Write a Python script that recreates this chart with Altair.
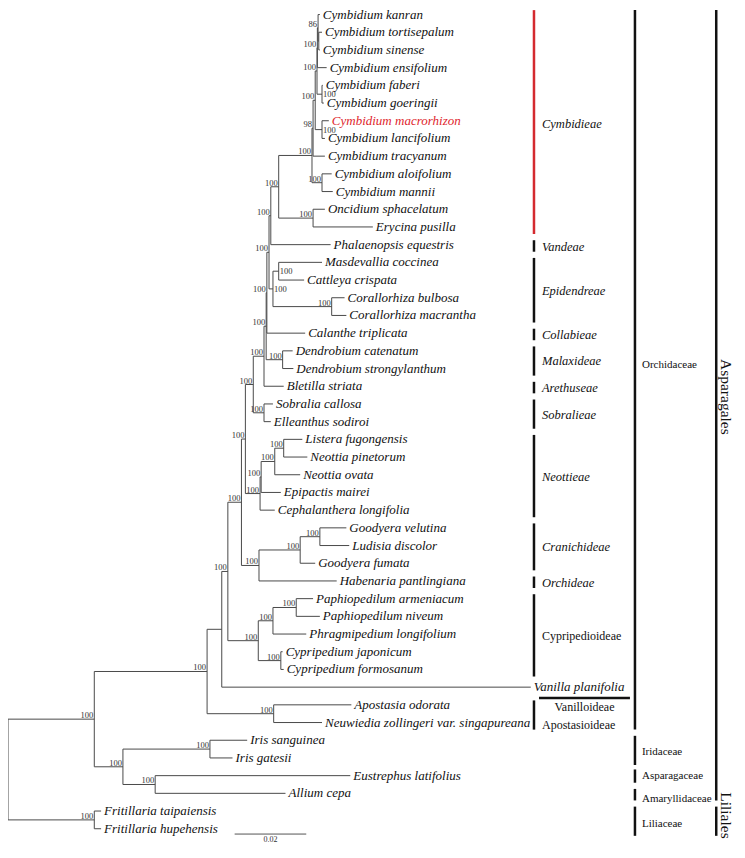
import altair as alt
import pandas as pd

# ---------------- tree data (branch depths in substitutions/site) ----------------
tips = [
    "Cymbidium kanran", "Cymbidium tortisepalum", "Cymbidium sinense", "Cymbidium ensifolium",
    "Cymbidium faberi", "Cymbidium goeringii", "Cymbidium macrorhizon", "Cymbidium lancifolium",
    "Cymbidium tracyanum", "Cymbidium aloifolium", "Cymbidium mannii", "Oncidium sphacelatum",
    "Erycina pusilla", "Phalaenopsis equestris", "Masdevallia coccinea", "Cattleya crispata",
    "Corallorhiza bulbosa", "Corallorhiza macrantha", "Calanthe triplicata", "Dendrobium catenatum",
    "Dendrobium strongylanthum", "Bletilla striata", "Sobralia callosa", "Elleanthus sodiroi",
    "Listera fugongensis", "Neottia pinetorum", "Neottia ovata", "Epipactis mairei",
    "Cephalanthera longifolia", "Goodyera velutina", "Ludisia discolor", "Goodyera fumata",
    "Habenaria pantlingiana", "Paphiopedilum armeniacum", "Paphiopedilum niveum",
    "Phragmipedium longifolium", "Cypripedium japonicum", "Cypripedium formosanum",
    "Vanilla planifolia", "Apostasia odorata", "Neuwiedia zollingeri var. singapureana",
    "Iris sanguinea", "Iris gatesii", "Eustrephus latifolius", "Allium cepa",
    "Fritillaria taipaiensis", "Fritillaria hupehensis",
]
tip_depth = [
    0.0871, 0.0877, 0.0871, 0.0890, 0.0879, 0.0882, 0.0896, 0.0885, 0.0885, 0.0904, 0.0907,
    0.0885, 0.1019, 0.0901, 0.0877, 0.0827, 0.0940, 0.0945, 0.0830, 0.0795, 0.0797, 0.0770,
    0.0740, 0.0734, 0.0822, 0.0836, 0.0816, 0.0762, 0.0745, 0.0945, 0.0953, 0.0858, 0.0918,
    0.0852, 0.0871, 0.0833, 0.0767, 0.0770, 0.1460, 0.0959, 0.0877, 0.0668, 0.0627, 0.0956,
    0.0775, 0.0260, 0.0260,
]
highlight_tip = "Cymbidium macrorhizon"

node_name = ["TS", "KTS", "KTSE", "FG", "G", "ML", "H", "I", "AM", "CYM", "OE", "CO", "VC",
             "MC", "COR", "EPI", "VCE", "VCEC", "DD", "X1", "X2", "SE", "X3", "LN", "LNO",
             "LNOE", "NEO", "X4", "GL", "GLF", "CRO", "X5", "PP", "PPP", "CC", "CYP", "X6",
             "X7", "AN", "X8", "IR", "AA", "IAA", "X9", "FR", "ROOT"]
node_kids = [
    ["Cymbidium tortisepalum", "Cymbidium sinense"], ["Cymbidium kanran", "TS"],
    ["KTS", "Cymbidium ensifolium"], ["Cymbidium faberi", "Cymbidium goeringii"], ["KTSE", "FG"],
    ["Cymbidium macrorhizon", "Cymbidium lancifolium"], ["G", "ML"], ["H", "Cymbidium tracyanum"],
    ["Cymbidium aloifolium", "Cymbidium mannii"], ["I", "AM"],
    ["Oncidium sphacelatum", "Erycina pusilla"], ["CYM", "OE"], ["CO", "Phalaenopsis equestris"],
    ["Masdevallia coccinea", "Cattleya crispata"], ["Corallorhiza bulbosa", "Corallorhiza macrantha"],
    ["MC", "COR"], ["VC", "EPI"], ["VCE", "Calanthe triplicata"],
    ["Dendrobium catenatum", "Dendrobium strongylanthum"], ["VCEC", "DD"], ["X1", "Bletilla striata"],
    ["Sobralia callosa", "Elleanthus sodiroi"], ["X2", "SE"],
    ["Listera fugongensis", "Neottia pinetorum"], ["LN", "Neottia ovata"], ["LNO", "Epipactis mairei"],
    ["LNOE", "Cephalanthera longifolia"], ["X3", "NEO"],
    ["Goodyera velutina", "Ludisia discolor"], ["GL", "Goodyera fumata"], ["GLF", "Habenaria pantlingiana"],
    ["X4", "CRO"], ["Paphiopedilum armeniacum", "Paphiopedilum niveum"],
    ["PP", "Phragmipedium longifolium"], ["Cypripedium japonicum", "Cypripedium formosanum"],
    ["PPP", "CC"], ["X5", "CYP"], ["X6", "Vanilla planifolia"],
    ["Apostasia odorata", "Neuwiedia zollingeri var. singapureana"], ["X7", "AN"],
    ["Iris sanguinea", "Iris gatesii"], ["Eustrephus latifolius", "Allium cepa"], ["IR", "AA"],
    ["X8", "IAA"], ["Fritillaria taipaiensis", "Fritillaria hupehensis"], ["X9", "FR"],
]
node_depth = [0.0868, 0.0866, 0.0864, 0.0877, 0.0863, 0.0877, 0.0858, 0.0852, 0.0877, 0.0849,
              0.0852, 0.0756, 0.0734, 0.0756, 0.0904, 0.0740, 0.0729, 0.0723, 0.0767, 0.0721,
              0.0715, 0.0715, 0.0685, 0.0770, 0.0745, 0.0707, 0.0704, 0.0663, 0.0871, 0.0816,
              0.0701, 0.0652, 0.0805, 0.0740, 0.0762, 0.0699, 0.0614, 0.0597, 0.0742, 0.0556,
              0.0564, 0.0411, 0.0321, 0.0241, 0.0241, 0.0]
node_support = ["", "86", "100", "100", "100", "100", "100", "98", "100", "100",
                "100", "100", "100", "100", "100", "100", "100", "100", "100", "100",
                "100", "100", "100", "100", "100", "100", "100", "100", "100", "100",
                "100", "100", "100", "100", "100", "100", "100", "", "100", "100",
                "100", "100", "100", "100", "100", ""]
support_right_of_node = ["MC", "EPI", "FG", "ML"]

# ---------------- clade annotations ----------------
tribe_names = ["Cymbidieae", "Vandeae", "Epidendreae", "Collabieae", "Malaxideae", "Arethuseae",
               "Sobralieae", "Neottieae", "Cranichideae", "Orchideae", "Cypripedioideae", "Apostasioideae"]
tribe_first = [0, 13, 14, 18, 19, 21, 22, 24, 29, 32, 33, 39]
tribe_last = [12, 13, 17, 18, 20, 21, 23, 28, 31, 32, 37, 40]
tribe_label_row = [6.2, 13.15, 15.6, 18.1, 19.6, 21.1, 22.6, 26.1, 30.1, 32.1, 35.1, 40.15]
tribe_italic = [True, True, True, True, True, True, True, True, True, True, False, False]
tribe_color = ["#d42a2f"] + ["#111111"] * 11

family_names = ["Orchidaceae", "Iridaceae", "Asparagaceae", "Amaryllidaceae", "Liliaceae"]
family_first = [0, 41, 42.9, 44, 45]
family_last = [40, 42, 43, 44, 46]
family_label_row = [19.8, 41.65, 43.0, 44.3, 45.75]

order_names = ["Asparagales", "Liliales"]
order_first = [0, 45]
order_last = [44, 46]
order_label_row = [21.6, 45.25]

vanilloideae_label = "Vanilloideae"
vanilloideae_row = 39.15
vanilloideae_bar_row = 38.62
vanilloideae_bar_x = [0.1483, 0.1737]

tribe_bar_x = 0.1469
family_bar_x = 0.1751
order_bar_x = 0.1978

scale_bar_x = [0.0633, 0.0833]
scale_bar_row = 46.3
scale_bar_label = "0.02"

# ---------------- layout of the tree ----------------
pos = {}
for i, t in enumerate(tips):
    pos[t] = (tip_depth[i], float(i))
for name, kids, d in zip(node_name, node_kids, node_depth):
    ys_ = [pos[k][1] for k in kids]
    pos[name] = (d, sum(ys_) / len(ys_))

segs = []
for name, kids in zip(node_name, node_kids):
    px, py = pos[name]
    ys_ = [pos[k][1] for k in kids]
    segs.append(dict(x=px, x2=px, y=min(ys_), y2=max(ys_)))
    for k in kids:
        kx, ky = pos[k]
        segs.append(dict(x=px, x2=kx, y=ky, y2=ky))
seg_df = pd.DataFrame(segs)

tip_df = pd.DataFrame(dict(
    x=tip_depth, y=list(range(len(tips))), label=tips,
    color=["#e0262d" if t == highlight_tip else "#111111" for t in tips],
))

sup_left = pd.DataFrame([dict(x=pos[n][0], y=pos[n][1], label=s)
                         for n, s in zip(node_name, node_support) if s and n not in support_right_of_node])
sup_right = pd.DataFrame([dict(x=pos[n][0], y=pos[n][1], label=s)
                          for n, s in zip(node_name, node_support) if s and n in support_right_of_node])

W, H = 729, 838
xs = alt.Scale(domain=[0, 0.2036], nice=False, zero=False)
ys = alt.Scale(domain=[-0.37, 46.975], nice=False, zero=False, reverse=True)
X = lambda f="x": alt.X(f"{f}:Q", scale=xs, axis=None)
Y = lambda f="y": alt.Y(f"{f}:Q", scale=ys, axis=None)

SERIF = "Liberation Serif"

tree = alt.Chart(seg_df).mark_rule(color="#4a4a4a", strokeWidth=1).encode(
    x=X(), x2="x2:Q", y=Y(), y2="y2:Q")

tip_text = alt.Chart(tip_df).mark_text(
    align="left", baseline="middle", dx=3, font=SERIF, fontStyle="italic", fontSize=13
).encode(x=X(), y=Y(), text="label:N", color=alt.Color("color:N", scale=None))

sup_l = alt.Chart(sup_left).mark_text(
    align="right", baseline="bottom", dx=-1, dy=1, font=SERIF, fontSize=8.5, color="#333333"
).encode(x=X(), y=Y(), text="label:N")
sup_r = alt.Chart(sup_right).mark_text(
    align="left", baseline="middle", dx=1, font=SERIF, fontSize=8.5, color="#333333"
).encode(x=X(), y=Y(), text="label:N")

# clade bars
bar_rows = []
for n, f, l, c in zip(tribe_names, tribe_first, tribe_last, tribe_color):
    bar_rows.append(dict(x=tribe_bar_x, y=f - 0.25, y2=l + 0.4, color=c))
for n, f, l in zip(family_names, family_first, family_last):
    bar_rows.append(dict(x=family_bar_x, y=f - 0.25, y2=l + 0.4, color="#111111"))
for n, f, l in zip(order_names, order_first, order_last):
    bar_rows.append(dict(x=order_bar_x, y=f - 0.25, y2=l + 0.4, color="#111111"))
bar_df = pd.DataFrame(bar_rows)
bars = alt.Chart(bar_df).mark_rule(strokeWidth=2.5).encode(
    x=X(), y=Y(), y2="y2:Q", color=alt.Color("color:N", scale=None))

van_bar = alt.Chart(pd.DataFrame(dict(x=[vanilloideae_bar_x[0]], x2=[vanilloideae_bar_x[1]],
                                      y=[vanilloideae_bar_row]))).mark_rule(
    strokeWidth=2.5, color="#111111").encode(x=X(), x2="x2:Q", y=Y())

tribe_df = pd.DataFrame(dict(
    x=[tribe_bar_x] * len(tribe_names), y=tribe_label_row, label=tribe_names, it=tribe_italic))
tribe_it = alt.Chart(tribe_df[tribe_df.it]).mark_text(
    align="left", baseline="middle", dx=8, font=SERIF, fontStyle="italic", fontSize=12.5, color="#111111"
).encode(x=X(), y=Y(), text="label:N")
tribe_rm = alt.Chart(tribe_df[~tribe_df.it]).mark_text(
    align="left", baseline="middle", dx=8, font=SERIF, fontSize=12, color="#111111"
).encode(x=X(), y=Y(), text="label:N")

van_text = alt.Chart(pd.DataFrame(dict(x=[sum(vanilloideae_bar_x) / 2], y=[vanilloideae_row],
                                       label=[vanilloideae_label]))).mark_text(
    align="center", baseline="middle", font=SERIF, fontSize=12, color="#111111"
).encode(x=X(), y=Y(), text="label:N")

fam_df = pd.DataFrame(dict(x=[family_bar_x] * len(family_names), y=family_label_row, label=family_names))
fam_text = alt.Chart(fam_df).mark_text(
    align="left", baseline="middle", dx=7, font=SERIF, fontSize=11, color="#111111"
).encode(x=X(), y=Y(), text="label:N")

ord_df = pd.DataFrame(dict(x=[order_bar_x] * len(order_names), y=order_label_row, label=order_names))
ord_text = alt.Chart(ord_df).mark_text(
    align="center", baseline="middle", angle=90, dy=-10, font=SERIF, fontSize=15.5, color="#111111"
).encode(x=X(), y=Y(), text="label:N")

sb = alt.Chart(pd.DataFrame(dict(x=[scale_bar_x[0]], x2=[scale_bar_x[1]], y=[scale_bar_row]))).mark_rule(
    color="#555555", strokeWidth=1).encode(x=X(), x2="x2:Q", y=Y())
sb_text = alt.Chart(pd.DataFrame(dict(x=[sum(scale_bar_x) / 2], y=[scale_bar_row], label=[scale_bar_label]))).mark_text(
    align="center", baseline="top", dy=2, font=SERIF, fontSize=8, color="#333333"
).encode(x=X(), y=Y(), text="label:N")

chart = alt.layer(
    tree, tip_text, sup_l, sup_r, bars, van_bar, tribe_it, tribe_rm, van_text, fam_text, ord_text, sb, sb_text
).properties(
    width=W, height=H, padding=0, autosize=alt.AutoSizeParams(type="none"), background="white"
).configure_view(stroke=None)

chart.save("out.html", embed_options={"renderer": "svg", "actions": False})
